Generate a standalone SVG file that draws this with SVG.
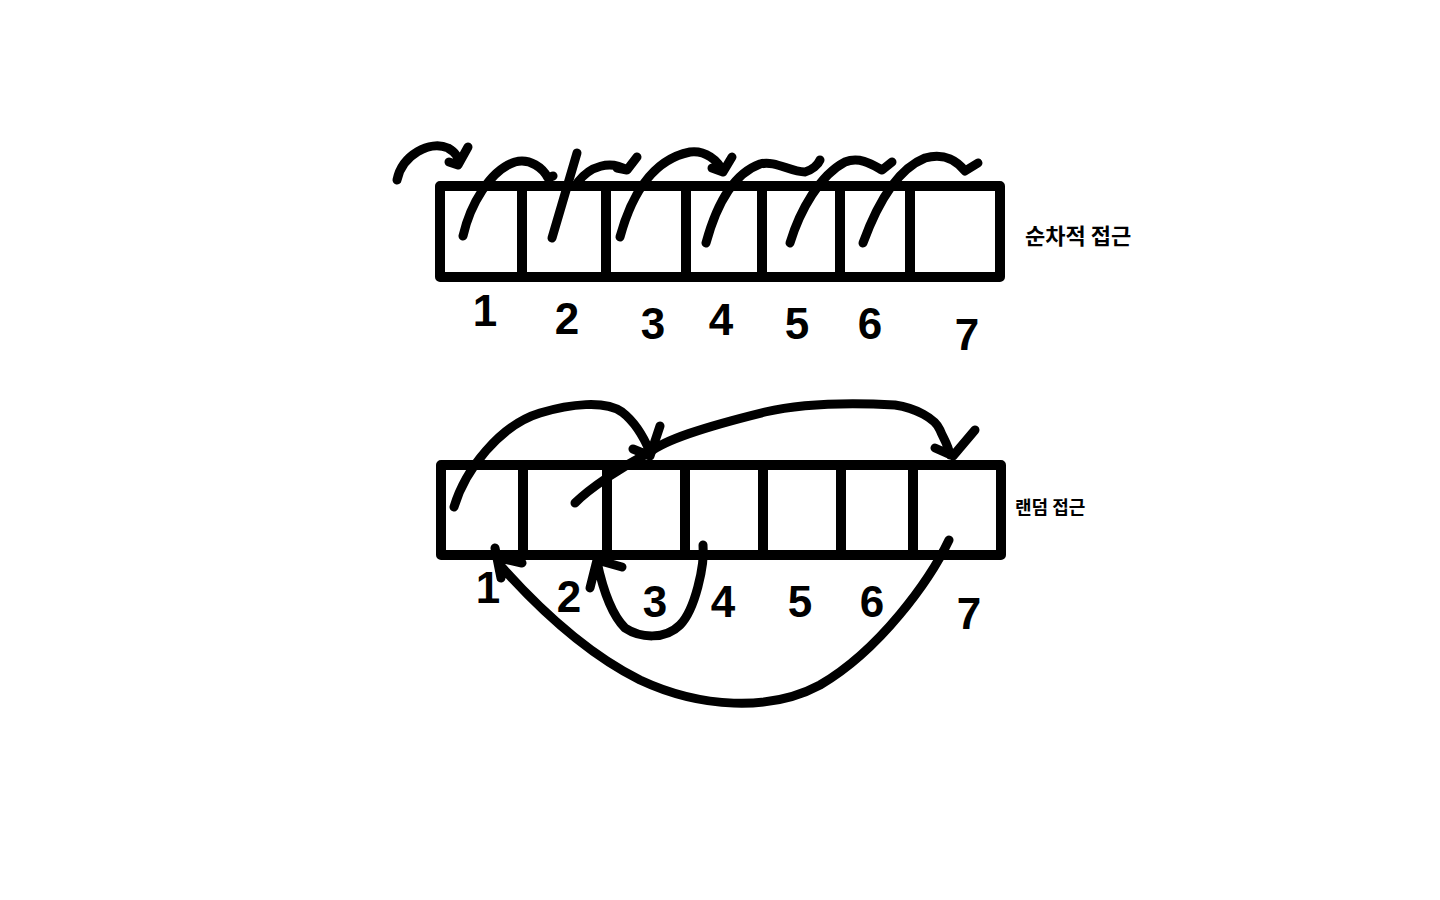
<svg xmlns="http://www.w3.org/2000/svg" width="1440" height="900" viewBox="0 0 1440 900">
<style>
.box{fill:none;stroke:#000;stroke-width:10;stroke-linejoin:round;stroke-linecap:round}
.ink{fill:none;stroke:#000;stroke-width:9;stroke-linecap:round;stroke-linejoin:round}
.num{font-family:"Liberation Sans",Arial,sans-serif;font-weight:bold;font-size:44px;fill:#000;text-anchor:middle}
.lbl{font-family:"Noto Sans CJK KR","Noto Sans",sans-serif;font-weight:bold;fill:#000}
</style>
<rect width="1440" height="900" fill="#fff"/>
<g id="top-array">
<rect class="box" x="440" y="186" width="560" height="91"/>
<path class="box" d="M522,186V277M606,186V277M686,186V277M762,186V277M840,186V277M910,186V277"/>
<text class="num" x="485" y="326">1</text>
<text class="num" x="567" y="334">2</text>
<text class="num" x="653" y="339">3</text>
<text class="num" x="721" y="335">4</text>
<text class="num" x="797" y="339">5</text>
<text class="num" x="870" y="339">6</text>
<text class="num" x="967" y="350">7</text>
</g>
<g id="label-sequential">
<text class="lbl" x="1025" y="244" font-size="22">순차적 접근</text>
</g>
<g id="bottom-array">
<rect class="box" x="441" y="465" width="560" height="90"/>
<path class="box" d="M523,465V555M607,465V555M685,465V555M763,465V555M841,465V555M913,465V555"/>
<text class="num" x="488" y="603">1</text>
<text class="num" x="569" y="612">2</text>
<text class="num" x="655" y="617">3</text>
<text class="num" x="723" y="617">4</text>
<text class="num" x="800" y="617">5</text>
<text class="num" x="872" y="617">6</text>
<text class="num" x="969" y="629">7</text>
</g>
<g id="label-random">
<text class="lbl" x="1015" y="514" font-size="18">랜덤 접근</text>
</g>
<g id="connectors">
<path class="ink" d="M397,180C402,155 430,140 448,148C455,152 460,158 458,165M468,147L458,165L449,162"/>
<path class="ink" d="M463,236C470,205 490,170 515,162C530,158 543,168 548,178L553,176"/>
<path class="ink" d="M552,238L577,153"/>
<path class="ink" d="M578,182C590,166 610,160 627,170M637,157L627,170L617,168"/>
<path class="ink" d="M620,237C630,200 650,160 690,152C705,150 718,160 723,172M732,157L723,172L712,168"/>
<path class="ink" d="M706,243C715,210 730,175 760,164C775,160 790,172 805,172C812,170 818,165 820,160"/>
<path class="ink" d="M790,243C800,210 820,175 845,162C860,156 873,165 882,170L892,162"/>
<path class="ink" d="M863,243C875,210 895,170 925,158C945,152 958,162 965,171L978,163"/>
<path class="ink" d="M454,507C465,470 500,425 540,413C570,404 605,400 622,412C635,422 645,440 650,452M660,426L650,456L633,449"/>
<path class="ink" d="M575,503C590,488 620,468 650,452C665,440 700,428 765,412C800,404 840,402 895,405C915,408 935,418 940,430C943,438 948,444 950,455M975,430L953,456L935,448"/>
<path class="ink" d="M949,540C930,580 880,650 820,685C770,712 700,708 640,680C590,655 540,610 500,565M495,548L501,578M500,558L522,563"/>
<path class="ink" d="M703,545C705,565 695,610 680,625C665,640 640,638 625,628C612,615 603,590 597,562M590,588L597,560L622,567"/>
</g>
</svg>
